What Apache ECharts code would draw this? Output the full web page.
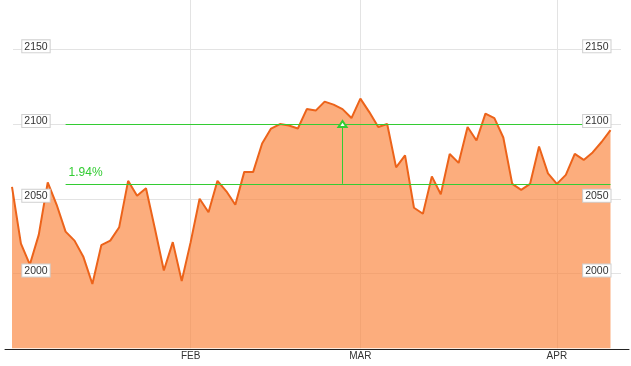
<!DOCTYPE html>
<html><head><meta charset="utf-8">
<script src="https://cdn.jsdelivr.net/npm/echarts@6/dist/echarts.min.js"></script>
<style>html,body{margin:0;padding:0;background:#fff}#c{width:631px;height:366px}</style>
</head><body><div id="c"></div>
<script>
// Trading days, Jan 2 – Apr 10
const dates = [
 '2015-01-02','2015-01-05','2015-01-06','2015-01-07','2015-01-08','2015-01-09','2015-01-12','2015-01-13','2015-01-14','2015-01-15',
 '2015-01-16','2015-01-20','2015-01-21','2015-01-22','2015-01-23','2015-01-26','2015-01-27','2015-01-28','2015-01-29','2015-01-30',
 '2015-02-02','2015-02-03','2015-02-04','2015-02-05','2015-02-06','2015-02-09','2015-02-10','2015-02-11','2015-02-12','2015-02-13',
 '2015-02-17','2015-02-18','2015-02-19','2015-02-20','2015-02-23','2015-02-24','2015-02-25','2015-02-26','2015-02-27',
 '2015-03-02','2015-03-03','2015-03-04','2015-03-05','2015-03-06','2015-03-09','2015-03-10','2015-03-11','2015-03-12','2015-03-13',
 '2015-03-16','2015-03-17','2015-03-18','2015-03-19','2015-03-20','2015-03-23','2015-03-24','2015-03-25','2015-03-26','2015-03-27',
 '2015-03-30','2015-03-31',
 '2015-04-01','2015-04-02','2015-04-06','2015-04-07','2015-04-08','2015-04-09','2015-04-10'
];
const values = [
 2058,2020,2006,2026,2061,2046,2028,2022,2011,1993,
 2019,2022,2031,2062,2052,2057,2030,2002,2021,1995,
 2021,2050,2041,2062,2055,2046,2068,2068,2087,2097,
 2100,2099,2097,2110,2109,2115,2113,2110,2104,
 2117,2108,2098,2100,2071,2079,2044,2040,2065,2053,
 2080,2074,2098,2089,2107,2104,2091,2060,2056,2060,
 2085,2067,
 2060,2066,2080,2076,2081,2088,2096
];
const monthTickDates = ['2015-02-02','2015-03-02','2015-04-01'];
const monthTickLabels = ['FEB','MAR','APR'];
const yMin = 1950, yMax = 2183, yStep = 50;
const annotationStartDate = '2015-01-12';
const annotationEndDate = '2015-04-10';
const annotationArrowDate = '2015-02-26';
const annotationLow = 2060;
const annotationHigh = 2100;

const pctText = ((annotationHigh / annotationLow - 1) * 100).toFixed(2) + '%';
const narrow = "'Liberation Sans Narrow', 'Arial Narrow', 'Liberation Sans', Arial, sans-serif";
const green = '#33cc33';
const gridColor = '#e3e3e3';

function yLabel(margin) {
  return {
    show: true, inside: true, margin: margin,
    showMinLabel: false, showMaxLabel: false,
    formatter: v => '{a|' + v + '}\n{b| }',
    rich: {
      a: { backgroundColor: '#fff', borderColor: '#cfcfcf', borderWidth: 1,
           padding: [1, 2, 0, 2], fontSize: 10.5, lineHeight: 11, fontFamily: narrow, color: '#333' },
      b: { fontSize: 1, height: 6, lineHeight: 6 }
    }
  };
}

const chart = echarts.init(document.getElementById('c'), null, { renderer: 'canvas' });
chart.setOption({
  animation: false,
  backgroundColor: '#fff',
  grid: [
    { left: 12, right: 20.5, top: 0, bottom: 17.75 },
    { left: 13, right: 10, top: 0, bottom: 17.75 },
    { left: 5, right: 2, top: 0, bottom: 16.5 }
  ],
  xAxis: [
    { type: 'category', gridIndex: 0, data: dates, boundaryGap: false,
      axisLine: { show: false }, axisTick: { show: false },
      axisLabel: { interval: (i, v) => monthTickDates.indexOf(v) >= 0,
                   formatter: v => monthTickLabels[monthTickDates.indexOf(v)] || '',
                   margin: 3, fontSize: 10, color: '#333', fontFamily: narrow },
      splitLine: { show: true, interval: (i, v) => monthTickDates.indexOf(v) >= 0,
                   lineStyle: { color: gridColor, width: 1 } } },
    { type: 'value', gridIndex: 1, min: 0, max: 1, show: false },
    { type: 'value', gridIndex: 2, min: 0, max: 1,
      axisLine: { show: true, onZero: false, lineStyle: { color: '#222', width: 1 } },
      axisTick: { show: false }, axisLabel: { show: false }, splitLine: { show: false } }
  ],
  yAxis: [
    { type: 'value', gridIndex: 0, min: yMin, max: yMax, interval: yStep, z: 5,
      axisLine: { show: false }, axisTick: { show: false }, splitLine: { show: false },
      axisLabel: yLabel(10.3) },
    { type: 'value', gridIndex: 0, position: 'right', min: yMin, max: yMax, interval: yStep, z: 5,
      axisLine: { show: false }, axisTick: { show: false }, splitLine: { show: false },
      axisLabel: yLabel(0) },
    { type: 'value', gridIndex: 1, min: yMin, max: yMax, interval: yStep, z: 0,
      axisLine: { show: false }, axisTick: { show: false }, axisLabel: { show: false },
      splitLine: { show: true, showMinLine: false, showMaxLine: false, lineStyle: { color: gridColor, width: 1 } } },
    { type: 'value', gridIndex: 2, min: 0, max: 1, show: false }
  ],
  series: [{
    type: 'line', xAxisIndex: 0, yAxisIndex: 0, data: values,
    symbol: 'none', z: 2,
    lineStyle: { color: '#ec631a', width: 2 },
    itemStyle: { color: '#ec631a' },
    areaStyle: { color: 'rgba(251,130,58,0.66)', opacity: 1, origin: 'start' },
    markLine: {
      silent: true, animation: false, symbol: 'none',
      lineStyle: { color: green, width: 1, type: 'solid' },
      label: { show: false },
      emphasis: { disabled: true },
      data: [
        [{ coord: [annotationStartDate, annotationHigh] }, { coord: [annotationEndDate, annotationHigh] }],
        [{ coord: [annotationStartDate, annotationLow],
           label: { show: true, formatter: pctText, position: 'insideStartTop', distance: [3, 5],
                    color: green, fontSize: 12, fontFamily: "'Liberation Sans', Arial, sans-serif" } },
         { coord: [annotationEndDate, annotationLow] }],
        [{ coord: [annotationArrowDate, annotationLow] },
         { coord: [annotationArrowDate, annotationHigh], symbol: 'emptyTriangle', symbolSize: [8, 6] }]
      ]
    }
  }]
});
</script></body></html>
